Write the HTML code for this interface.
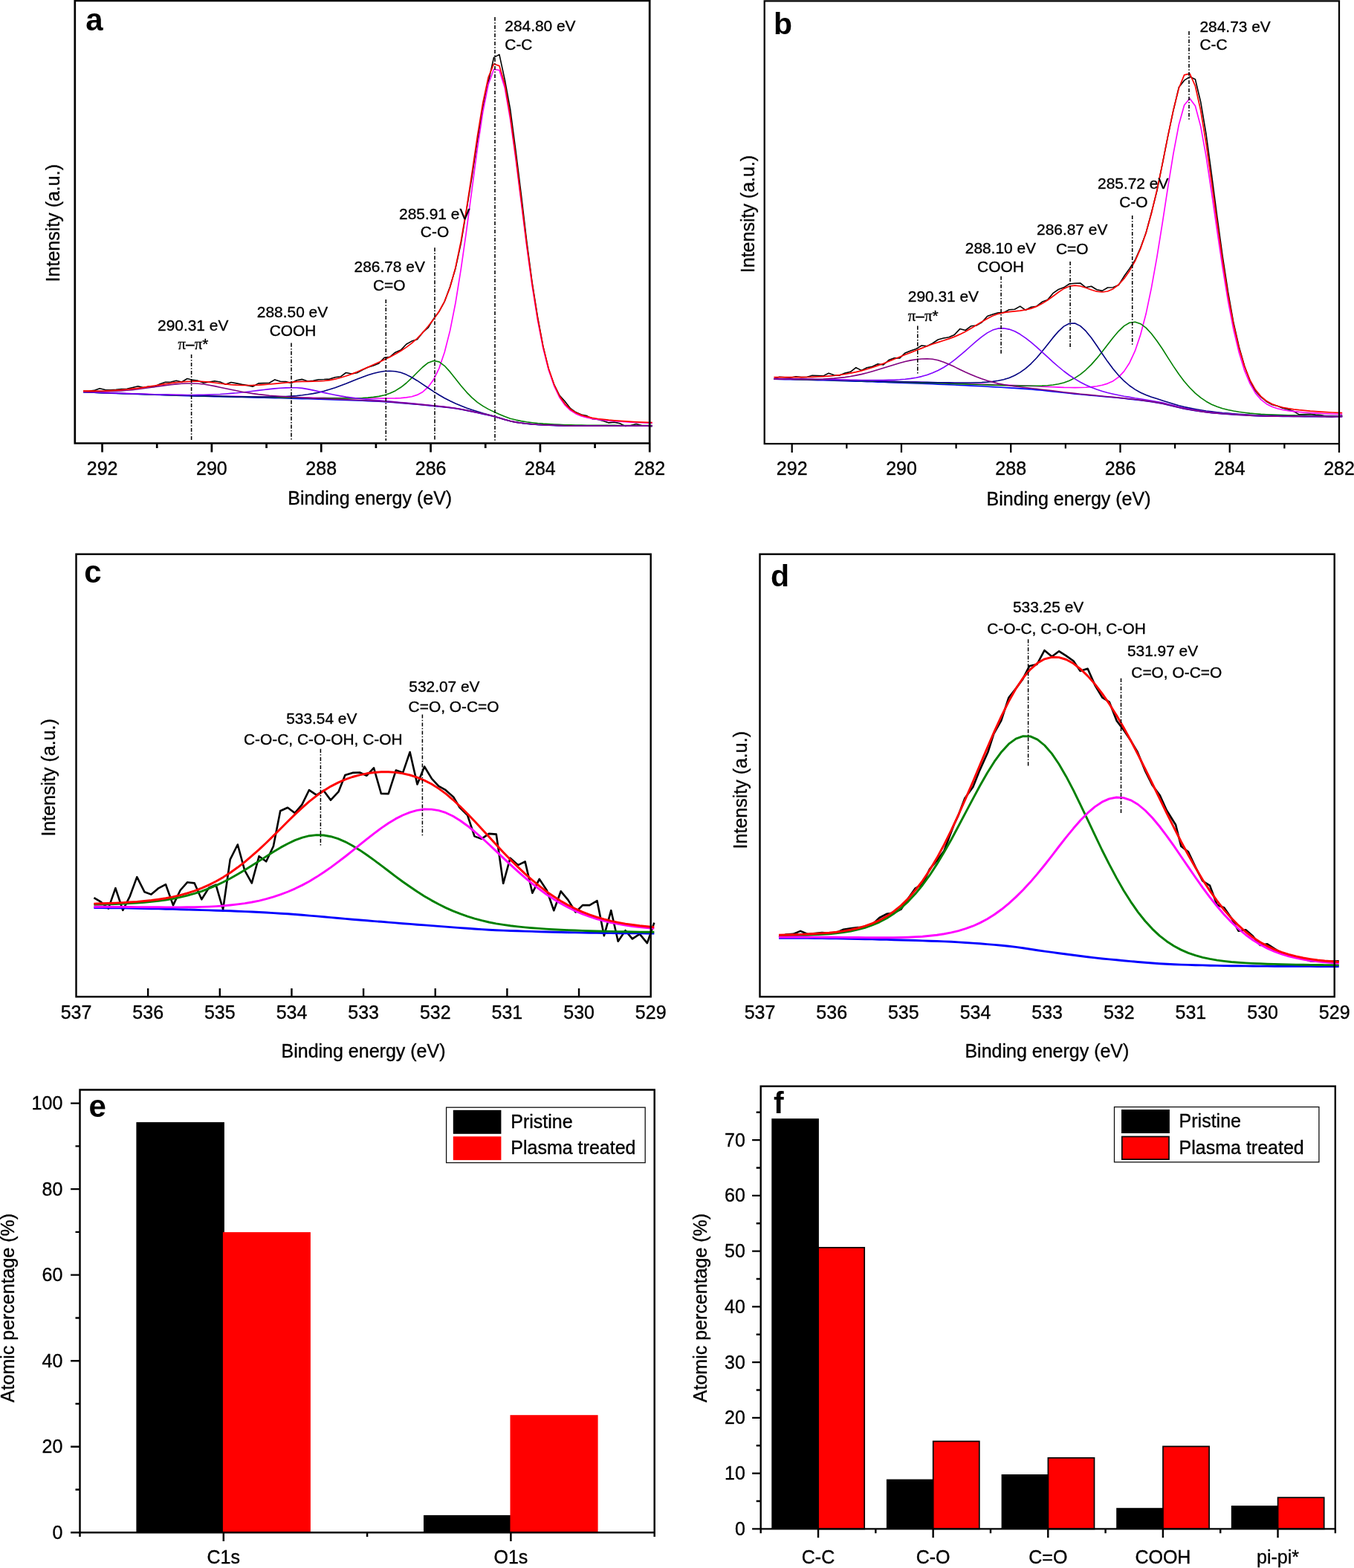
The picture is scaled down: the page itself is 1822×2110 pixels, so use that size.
<!DOCTYPE html>
<html lang="en">
<head>
<meta charset="utf-8">
<title>XPS spectra</title>
<style>
html,body{margin:0;padding:0;background:#fff;}
body{width:1822px;height:2110px;overflow:hidden;}
svg{display:block;}
svg text{font-family:"Liberation Sans",Arial,Helvetica,sans-serif;fill:#000;stroke:#000;stroke-width:0.35px;stroke-linejoin:round;}
svg text.b{stroke-width:0;}
</style>
</head>
<body>
<svg xmlns="http://www.w3.org/2000/svg" width="1822" height="2110" viewBox="0 0 1822 2110">
<rect x="0" y="0" width="1822" height="2110" fill="#fff"/>
<path d="M112 526.3 L119.4 526.4 L126.7 525.4 L134.1 522.7 L141.5 524.6 L148.8 524.7 L156.2 524.3 L163.6 523.6 L170.9 523.3 L178.3 521.6 L185.7 519.7 L193 521.6 L200.4 520 L207.8 520.4 L215.1 516.7 L222.5 514.2 L229.9 514 L237.2 512.2 L244.6 514 L252 509.5 L259.3 511.4 L266.7 512.4 L274.1 515.2 L281.4 514 L288.8 512.8 L296.2 514 L303.5 517.3 L310.9 514.5 L318.3 515.9 L325.6 517.4 L333 518.6 L340.4 520.1 L347.7 515.9 L355.1 515.6 L362.5 515.3 L369.8 510.9 L377.2 513.2 L384.6 513.6 L391.9 515.5 L399.3 511.7 L406.7 510.4 L414 513 L421.4 512.2 L428.8 510.7 L436.1 510.5 L443.5 510.1 L450.9 507.8 L458.2 506.8 L465.6 501.5 L473 503 L480.4 501.7 L487.7 497.7 L495.1 494.3 L502.5 492.1 L509.8 489 L517.2 481.2 L524.6 480.3 L531.9 474.2 L539.3 471.1 L546.7 463.2 L554 459.1 L561.4 456.8 L568.8 447.4 L576.1 441 L583.5 428.9 L590.9 419.2 L598.2 405.8 L605.6 385.8 L613 360.9 L620.3 327.4 L627.7 283.1 L635.1 237.5 L642.4 189.1 L649.8 145.7 L657.2 110.3 L664.5 77.4 L671.9 73.4 L679.3 107.4 L686.6 146.9 L694 202.6 L701.4 262.2 L708.7 324.2 L716.1 380.2 L723.5 426.6 L730.8 466 L738.2 496.8 L745.6 517.4 L752.9 532 L760.3 540.3 L767.7 549.7 L775 554.8 L782.4 558 L789.8 559.6 L797.1 563.7 L804.5 564.5 L811.9 566.6 L819.2 568.9 L826.6 568.1 L834 569.7 L841.3 573.4 L848.7 572.6 L856.1 570.6 L863.4 572.6 L877.7 573.8" fill="none" stroke="#000" stroke-width="1.6" stroke-linejoin="round" />
<path d="M112 527.7 L119.4 528 L126.7 528.3 L134.1 528.6 L141.5 528.9 L148.8 529.1 L156.2 529.4 L163.6 529.7 L170.9 530 L178.3 530.2 L185.7 530.5 L193 530.7 L200.4 531 L207.8 531.2 L215.1 531.5 L222.5 531.7 L229.9 532 L237.2 532.2 L244.6 532.4 L252 532.6 L259.3 532.9 L266.7 533.1 L274.1 533.3 L281.4 533.5 L288.8 533.6 L296.2 533.8 L303.5 534 L310.9 534.2 L318.3 534.4 L325.6 534.5 L333 534.7 L340.4 534.9 L347.7 535.1 L355.1 535.2 L362.5 535.4 L369.8 535.6 L377.2 535.8 L384.6 536 L391.9 536.2 L399.3 536.4 L406.7 536.6 L414 536.8 L421.4 537 L428.8 537.2 L436.1 537.5 L443.5 537.7 L450.9 537.9 L458.2 538.1 L465.6 538.4 L473 538.7 L480.4 538.9 L487.7 539.2 L495.1 539.6 L502.5 539.9 L509.8 540.3 L517.2 540.8 L524.6 541.3 L531.9 541.8 L539.3 542.4 L546.7 543 L554 543.6 L561.4 544.3 L568.8 544.9 L576.1 545.6 L583.5 546.4 L590.9 547.1 L598.2 547.9 L605.6 548.7 L613 549.7 L620.3 550.9 L627.7 552.4 L635.1 553.9 L642.4 555.5 L649.8 557.1 L657.2 558.7 L664.5 560.5 L671.9 562.5 L679.3 564.8 L686.6 566.8 L694 568.2 L701.4 569.3 L708.7 570.2 L716.1 570.9 L723.5 571.5 L730.8 571.8 L738.2 572.2 L745.6 572.5 L752.9 572.7 L760.3 572.9 L767.7 573 L775 573.1 L782.4 573.1 L789.8 573.1 L797.1 573.1 L804.5 573.1 L811.9 573.1 L819.2 573.1 L826.6 573.1 L834 573.1 L841.3 573.1 L848.7 573.1 L856.1 573.1 L863.4 573.1 L877.7 573.1" fill="none" stroke="#0000ff" stroke-width="1.6" stroke-linejoin="round" />
<path d="M112 527.3 L119.4 527.6 L126.7 527.9 L134.1 528.2 L141.5 528.4 L148.8 528.7 L156.2 529 L163.6 529.2 L170.9 529.5 L178.3 529.7 L185.7 530 L193 530.2 L200.4 530.5 L207.8 530.7 L215.1 530.9 L222.5 531.2 L229.9 531.4 L237.2 531.6 L244.6 531.8 L252 532 L259.3 532.2 L266.7 532.4 L274.1 532.5 L281.4 532.7 L288.8 532.9 L296.2 533 L303.5 533.2 L310.9 533.3 L318.3 533.4 L325.6 533.6 L333 533.7 L340.4 533.8 L347.7 534 L355.1 534.1 L362.5 534.2 L369.8 534.3 L377.2 534.5 L384.6 534.6 L391.9 534.7 L399.3 534.9 L406.7 535 L414 535.1 L421.4 535.2 L428.8 535.3 L436.1 535.4 L443.5 535.5 L450.9 535.6 L458.2 535.6 L465.6 535.7 L473 535.8 L480.4 535.9 L487.7 535.9 L495.1 536 L502.5 536 L509.8 536 L517.2 536.1 L524.6 536 L531.9 535.9 L539.3 535.6 L546.7 534.9 L554 533.7 L561.4 531.4 L568.8 527.4 L576.1 520.9 L583.5 510.8 L590.9 495.6 L598.2 474 L605.6 444.9 L613 407.5 L620.3 362.2 L627.7 310.3 L635.1 254.8 L642.4 199.7 L649.8 150.5 L657.2 113.2 L664.5 93.3 L671.9 94.5 L679.3 118.3 L686.6 160.3 L694 213.9 L701.4 272.7 L708.7 331 L716.1 384.6 L723.5 430.9 L730.8 468.6 L738.2 497.7 L745.6 519.3 L752.9 534.7 L760.3 545.2 L767.7 552.3 L775 556.9 L782.4 559.9 L789.8 562 L797.1 563.4 L804.5 564.5 L811.9 565.4 L819.2 566.1 L826.6 566.7 L834 567.3 L841.3 567.7 L848.7 568.1 L856.1 568.5 L863.4 568.8 L877.7 569.4" fill="none" stroke="#ff00ff" stroke-width="1.65" stroke-linejoin="round" />
<path d="M112 527.5 L119.4 527.8 L126.7 528.1 L134.1 528.4 L141.5 528.7 L148.8 528.9 L156.2 529.2 L163.6 529.5 L170.9 529.7 L178.3 530 L185.7 530.2 L193 530.5 L200.4 530.7 L207.8 531 L215.1 531.2 L222.5 531.4 L229.9 531.7 L237.2 531.9 L244.6 532.1 L252 532.3 L259.3 532.5 L266.7 532.7 L274.1 532.9 L281.4 533 L288.8 533.2 L296.2 533.4 L303.5 533.5 L310.9 533.7 L318.3 533.8 L325.6 534 L333 534.1 L340.4 534.2 L347.7 534.4 L355.1 534.5 L362.5 534.7 L369.8 534.8 L377.2 534.9 L384.6 535.1 L391.9 535.2 L399.3 535.3 L406.7 535.5 L414 535.6 L421.4 535.7 L428.8 535.7 L436.1 535.8 L443.5 535.9 L450.9 535.9 L458.2 535.9 L465.6 535.9 L473 535.9 L480.4 535.7 L487.7 535.5 L495.1 535.1 L502.5 534.4 L509.8 533.4 L517.2 531.7 L524.6 529.3 L531.9 525.9 L539.3 521.3 L546.7 515.5 L554 508.7 L561.4 501.2 L568.8 494 L576.1 488.2 L583.5 485.5 L590.9 486.9 L598.2 492.3 L605.6 500.4 L613 509.7 L620.3 519 L627.7 527.6 L635.1 535.1 L642.4 541.3 L649.8 546.4 L657.2 550.6 L664.5 554.1 L671.9 557.4 L679.3 560.6 L686.6 563.2 L694 565.1 L701.4 566.6 L708.7 567.8 L716.1 568.7 L723.5 569.5 L730.8 570.1 L738.2 570.5 L745.6 571 L752.9 571.4 L760.3 571.7 L767.7 571.9 L775 572 L782.4 572.1 L789.8 572.2 L797.1 572.2 L804.5 572.3 L811.9 572.3 L819.2 572.4 L826.6 572.4 L834 572.5 L841.3 572.5 L848.7 572.5 L856.1 572.6 L863.4 572.6 L877.7 572.6" fill="none" stroke="#008000" stroke-width="1.6" stroke-linejoin="round" />
<path d="M112 527.5 L119.4 527.8 L126.7 528.1 L134.1 528.4 L141.5 528.7 L148.8 528.9 L156.2 529.2 L163.6 529.5 L170.9 529.7 L178.3 530 L185.7 530.2 L193 530.5 L200.4 530.7 L207.8 530.9 L215.1 531.2 L222.5 531.4 L229.9 531.6 L237.2 531.8 L244.6 532 L252 532.2 L259.3 532.4 L266.7 532.6 L274.1 532.8 L281.4 533 L288.8 533.1 L296.2 533.3 L303.5 533.4 L310.9 533.6 L318.3 533.7 L325.6 533.8 L333 533.9 L340.4 534 L347.7 534 L355.1 534 L362.5 534 L369.8 533.9 L377.2 533.8 L384.6 533.5 L391.9 533.1 L399.3 532.6 L406.7 531.8 L414 530.8 L421.4 529.6 L428.8 528.1 L436.1 526.3 L443.5 524.1 L450.9 521.7 L458.2 519.1 L465.6 516.3 L473 513.3 L480.4 510.3 L487.7 507.4 L495.1 504.8 L502.5 502.5 L509.8 500.7 L517.2 499.5 L524.6 499.2 L531.9 499.7 L539.3 501.3 L546.7 504.1 L554 507.8 L561.4 512.2 L568.8 517.1 L576.1 522 L583.5 526.9 L590.9 531.5 L598.2 535.7 L605.6 539.5 L613 542.9 L620.3 546 L627.7 548.9 L635.1 551.5 L642.4 553.8 L649.8 556 L657.2 558 L664.5 560 L671.9 562.2 L679.3 564.6 L686.6 566.6 L694 568.1 L701.4 569.2 L708.7 570.1 L716.1 570.8 L723.5 571.4 L730.8 571.8 L738.2 572.1 L745.6 572.4 L752.9 572.6 L760.3 572.9 L767.7 573 L775 573 L782.4 573.1 L789.8 573.1 L797.1 573.1 L804.5 573.1 L811.9 573.1 L819.2 573.1 L826.6 573.1 L834 573.1 L841.3 573.1 L848.7 573.1 L856.1 573.1 L863.4 573.1 L877.7 573.1" fill="none" stroke="#000080" stroke-width="1.6" stroke-linejoin="round" />
<path d="M112 527.5 L119.4 527.7 L126.7 528 L134.1 528.3 L141.5 528.6 L148.8 528.8 L156.2 529.1 L163.6 529.3 L170.9 529.6 L178.3 529.8 L185.7 530 L193 530.3 L200.4 530.5 L207.8 530.7 L215.1 530.9 L222.5 531 L229.9 531.2 L237.2 531.3 L244.6 531.4 L252 531.5 L259.3 531.5 L266.7 531.4 L274.1 531.3 L281.4 531.1 L288.8 530.8 L296.2 530.5 L303.5 530 L310.9 529.4 L318.3 528.8 L325.6 528 L333 527.2 L340.4 526.3 L347.7 525.4 L355.1 524.5 L362.5 523.6 L369.8 522.9 L377.2 522.3 L384.6 521.9 L391.9 521.7 L399.3 521.8 L406.7 522.4 L414 523.6 L421.4 525.1 L428.8 526.7 L436.1 528.4 L443.5 530 L450.9 531.5 L458.2 532.9 L465.6 534.1 L473 535.1 L480.4 536 L487.7 536.8 L495.1 537.5 L502.5 538.2 L509.8 538.8 L517.2 539.5 L524.6 540.1 L531.9 540.8 L539.3 541.5 L546.7 542.1 L554 542.9 L561.4 543.6 L568.8 544.3 L576.1 545.1 L583.5 545.8 L590.9 546.6 L598.2 547.4 L605.6 548.3 L613 549.3 L620.3 550.5 L627.7 552 L635.1 553.6 L642.4 555.2 L649.8 556.8 L657.2 558.4 L664.5 560.2 L671.9 562.3 L679.3 564.6 L686.6 566.6 L694 568 L701.4 569.1 L708.7 570 L716.1 570.7 L723.5 571.3 L730.8 571.7 L738.2 572 L745.6 572.3 L752.9 572.6 L760.3 572.8 L767.7 572.9 L775 573 L782.4 573 L789.8 573 L797.1 573 L804.5 573 L811.9 573 L819.2 573 L826.6 573 L834 573 L841.3 573 L848.7 573 L856.1 573 L863.4 573 L877.7 573" fill="none" stroke="#8000ff" stroke-width="1.6" stroke-linejoin="round" />
<path d="M112 527 L119.4 527.1 L126.7 527.1 L134.1 527.1 L141.5 527 L148.8 526.7 L156.2 526.4 L163.6 525.9 L170.9 525.3 L178.3 524.6 L185.7 523.7 L193 522.8 L200.4 521.8 L207.8 520.7 L215.1 519.6 L222.5 518.6 L229.9 517.7 L237.2 516.9 L244.6 516.3 L252 516 L259.3 516 L266.7 516.3 L274.1 517 L281.4 518.2 L288.8 519.6 L296.2 521.2 L303.5 522.8 L310.9 524.3 L318.3 525.8 L325.6 527.2 L333 528.5 L340.4 529.6 L347.7 530.6 L355.1 531.4 L362.5 532.2 L369.8 532.8 L377.2 533.4 L384.6 533.9 L391.9 534.4 L399.3 534.8 L406.7 535.2 L414 535.5 L421.4 535.9 L428.8 536.2 L436.1 536.5 L443.5 536.8 L450.9 537.1 L458.2 537.4 L465.6 537.7 L473 538 L480.4 538.3 L487.7 538.6 L495.1 539 L502.5 539.4 L509.8 539.8 L517.2 540.3 L524.6 540.8 L531.9 541.4 L539.3 542 L546.7 542.6 L554 543.2 L561.4 543.9 L568.8 544.6 L576.1 545.3 L583.5 546 L590.9 546.8 L598.2 547.6 L605.6 548.5 L613 549.5 L620.3 550.7 L627.7 552.1 L635.1 553.7 L642.4 555.2 L649.8 556.8 L657.2 558.5 L664.5 560.3 L671.9 562.4 L679.3 564.7 L686.6 566.6 L694 568.1 L701.4 569.2 L708.7 570 L716.1 570.7 L723.5 571.3 L730.8 571.7 L738.2 572 L745.6 572.3 L752.9 572.6 L760.3 572.8 L767.7 572.9 L775 573 L782.4 573 L789.8 573 L797.1 573 L804.5 573 L811.9 573 L819.2 573 L826.6 573 L834 573 L841.3 573 L848.7 573 L856.1 573 L863.4 573 L877.7 573" fill="none" stroke="#800080" stroke-width="1.6" stroke-linejoin="round" />
<path d="M112 526.1 L119.4 526.1 L126.7 526.1 L134.1 526 L141.5 525.9 L148.8 525.6 L156.2 525.2 L163.6 524.7 L170.9 524 L178.3 523.2 L185.7 522.3 L193 521.3 L200.4 520.2 L207.8 519 L215.1 517.9 L222.5 516.7 L229.9 515.7 L237.2 514.7 L244.6 514 L252 513.4 L259.3 513.1 L266.7 513.1 L274.1 513.5 L281.4 514.2 L288.8 515 L296.2 516 L303.5 516.8 L310.9 517.6 L318.3 518.1 L325.6 518.4 L333 518.5 L340.4 518.4 L347.7 518.1 L355.1 517.6 L362.5 517 L369.8 516.4 L377.2 515.7 L384.6 515 L391.9 514.3 L399.3 513.7 L406.7 513.4 L414 513.3 L421.4 513.2 L428.8 513 L436.1 512.5 L443.5 511.6 L450.9 510.2 L458.2 508.3 L465.6 506 L473 503.4 L480.4 500.5 L487.7 497.3 L495.1 494.1 L502.5 490.8 L509.8 487.5 L517.2 484.1 L524.6 480.5 L531.9 476.5 L539.3 472.2 L546.7 467.4 L554 461.8 L561.4 455.3 L568.8 447.6 L576.1 439 L583.5 429.6 L590.9 419 L598.2 405.6 L605.6 386.7 L613 360 L620.3 324.7 L627.7 281.5 L635.1 233 L642.4 183.4 L649.8 138.2 L657.2 103.8 L664.5 86 L671.9 88.6 L679.3 113.4 L686.6 156.1 L694 210.2 L701.4 269.5 L708.7 328.1 L716.1 382 L723.5 428.5 L730.8 466.4 L738.2 495.7 L745.6 517.5 L752.9 533 L760.3 543.6 L767.7 550.8 L775 555.5 L782.4 558.6 L789.8 560.7 L797.1 562.3 L804.5 563.5 L811.9 564.4 L819.2 565.2 L826.6 565.8 L834 566.4 L841.3 566.9 L848.7 567.4 L856.1 567.8 L863.4 568.1 L877.7 568.7" fill="none" stroke="#ff0000" stroke-width="1.7" stroke-linejoin="round" />
<line x1="666" y1="23" x2="666" y2="593" stroke="#000" stroke-width="1.55" stroke-dasharray="5.1 2.2 1.5 2.2"/>
<line x1="585" y1="333.3" x2="585" y2="593" stroke="#000" stroke-width="1.55" stroke-dasharray="5.1 2.2 1.5 2.2"/>
<line x1="519.3" y1="402.9" x2="519.3" y2="593" stroke="#000" stroke-width="1.55" stroke-dasharray="5.1 2.2 1.5 2.2"/>
<line x1="392" y1="461.6" x2="392" y2="593" stroke="#000" stroke-width="1.55" stroke-dasharray="5.1 2.2 1.5 2.2"/>
<line x1="257.6" y1="477" x2="257.6" y2="593" stroke="#000" stroke-width="1.55" stroke-dasharray="5.1 2.2 1.5 2.2"/>
<text x="679.3" y="41.8" font-size="20.9" >284.80 eV</text>
<text x="679.3" y="66.6" font-size="20.9" >C-C</text>
<text x="584.7" y="294.5" font-size="20.9" text-anchor="middle" >285.91 eV</text>
<text x="585" y="319" font-size="20.9" text-anchor="middle" >C-O</text>
<text x="524.2" y="366.2" font-size="20.9" text-anchor="middle" >286.78 eV</text>
<text x="523.8" y="391.4" font-size="20.9" text-anchor="middle" >C=O</text>
<text x="393.5" y="427.1" font-size="20.9" text-anchor="middle" >288.50 eV</text>
<text x="394" y="452.4" font-size="20.9" text-anchor="middle" >COOH</text>
<text x="259.7" y="444.8" font-size="20.9" text-anchor="middle" >290.31 eV</text>
<text x="260" y="469.6" font-size="20.9" text-anchor="middle" ><tspan font-family="Liberation Serif, serif">π</tspan>–<tspan font-family="Liberation Serif, serif">π</tspan>*</text>
<text x="115.2" y="41" font-size="42" font-weight="bold" class="b" >a</text>
<text x="497.7" y="679.2" font-size="25.0" text-anchor="middle" >Binding energy (eV)</text>
<text x="79.9" y="300.2" font-size="25.0" text-anchor="middle" transform="rotate(-90 79.9 300.2)" >Intensity (a.u.)</text>
<text x="137.6" y="639.3" font-size="25.0" text-anchor="middle" >292</text>
<text x="284.9" y="639.3" font-size="25.0" text-anchor="middle" >290</text>
<text x="432.2" y="639.3" font-size="25.0" text-anchor="middle" >288</text>
<text x="579.6" y="639.3" font-size="25.0" text-anchor="middle" >286</text>
<text x="726.9" y="639.3" font-size="25.0" text-anchor="middle" >284</text>
<text x="874.2" y="639.3" font-size="25.0" text-anchor="middle" >282</text>
<path d="M100.8 0.9H874.2V596.5H100.8ZM137.55 596.55L137.55 608.55M211.22 596.55L211.22 602.95M284.89 596.55L284.89 608.55M358.56 596.55L358.56 602.95M432.23 596.55L432.23 608.55M505.9 596.55L505.9 602.95M579.57 596.55L579.57 608.55M653.24 596.55L653.24 602.95M726.91 596.55L726.91 608.55M800.58 596.55L800.58 602.95M874.25 596.55L874.25 608.55" fill="none" stroke="#000" stroke-width="2.7" stroke-linejoin="miter"/>
<path d="M1041.4 509.7 L1048.8 507.2 L1056.1 507.8 L1063.5 508.2 L1070.9 506.7 L1078.2 507.6 L1085.6 507.5 L1092.9 505.2 L1100.3 505.6 L1107.7 505.9 L1115 502.3 L1122.4 504.8 L1129.8 505.1 L1137.1 502.1 L1144.5 500.3 L1151.8 494.6 L1159.2 498.5 L1166.6 494.8 L1173.9 493.2 L1181.3 489.8 L1188.7 491 L1196 484.5 L1203.4 481.7 L1210.7 481.9 L1218.1 474.9 L1225.5 471.9 L1232.8 469.4 L1240.2 465 L1247.6 465.7 L1254.9 462 L1262.3 457 L1269.7 455 L1277 453.7 L1284.4 450.4 L1291.7 442.6 L1299.1 444.5 L1306.5 438.8 L1313.8 438 L1321.2 433.7 L1328.6 425.5 L1335.9 422.9 L1343.3 420.8 L1350.6 420.6 L1358 416.7 L1365.4 416.2 L1372.7 412.1 L1380.1 417.3 L1387.5 413.3 L1394.8 412.2 L1402.2 406.3 L1409.6 403.5 L1416.9 394.7 L1424.3 389.5 L1431.6 386.8 L1439 382 L1446.4 381.3 L1453.7 381 L1461.1 386.8 L1468.5 385.2 L1475.8 389.8 L1483.2 391.4 L1490.5 387 L1497.9 386.8 L1505.3 383.5 L1512.6 371.8 L1520 361.4 L1527.4 350 L1534.7 333.6 L1542.1 313.2 L1549.4 286.3 L1556.8 257.1 L1564.2 220.4 L1571.5 183.6 L1578.9 148.7 L1586.3 117.6 L1593.6 108.2 L1601 103.3 L1608.4 106.8 L1615.7 137.2 L1623.1 181 L1630.4 234.9 L1637.8 291.3 L1645.2 345.2 L1652.5 392.7 L1659.9 434.3 L1667.3 466.8 L1674.6 492.2 L1682 512.5 L1689.3 526 L1696.7 534.2 L1704.1 540.2 L1711.4 544.4 L1718.8 546.3 L1726.2 549.3 L1733.5 551 L1740.9 553.6 L1748.2 557.9 L1755.6 557.6 L1763 557.3 L1770.3 558.1 L1777.7 558.5 L1785.1 560.7 L1792.4 561.2 L1806.2 559" fill="none" stroke="#000" stroke-width="1.6" stroke-linejoin="round" />
<path d="M1041.4 510.3 L1048.8 510.4 L1056.1 510.6 L1063.5 510.7 L1070.9 510.9 L1078.2 511 L1085.6 511.2 L1092.9 511.4 L1100.3 511.6 L1107.7 511.8 L1115 512 L1122.4 512.2 L1129.8 512.4 L1137.1 512.6 L1144.5 512.9 L1151.8 513.1 L1159.2 513.3 L1166.6 513.6 L1173.9 513.8 L1181.3 514.1 L1188.7 514.3 L1196 514.6 L1203.4 514.9 L1210.7 515.1 L1218.1 515.4 L1225.5 515.7 L1232.8 515.9 L1240.2 516.2 L1247.6 516.5 L1254.9 516.8 L1262.3 517.1 L1269.7 517.4 L1277 517.7 L1284.4 518 L1291.7 518.4 L1299.1 518.7 L1306.5 519.1 L1313.8 519.4 L1321.2 519.8 L1328.6 520.2 L1335.9 520.6 L1343.3 521 L1350.6 521.5 L1358 521.9 L1365.4 522.4 L1372.7 522.9 L1380.1 523.4 L1387.5 524 L1394.8 524.6 L1402.2 525.3 L1409.6 526.1 L1416.9 526.9 L1424.3 527.7 L1431.6 528.5 L1439 529.3 L1446.4 530.1 L1453.7 530.8 L1461.1 531.5 L1468.5 532.2 L1475.8 532.8 L1483.2 533.5 L1490.5 534.2 L1497.9 534.8 L1505.3 535.5 L1512.6 536.3 L1520 537.1 L1527.4 537.9 L1534.7 538.8 L1542.1 539.7 L1549.4 540.7 L1556.8 541.9 L1564.2 543.2 L1571.5 544.9 L1578.9 546.7 L1586.3 548.5 L1593.6 550.1 L1601 551.4 L1608.4 552.6 L1615.7 553.8 L1623.1 554.8 L1630.4 555.6 L1637.8 556.3 L1645.2 556.9 L1652.5 557.4 L1659.9 557.9 L1667.3 558.4 L1674.6 558.8 L1682 559.2 L1689.3 559.6 L1696.7 560 L1704.1 560.2 L1711.4 560.2 L1718.8 560.3 L1726.2 560.4 L1733.5 560.4 L1740.9 560.5 L1748.2 560.5 L1755.6 560.6 L1763 560.6 L1770.3 560.6 L1777.7 560.7 L1785.1 560.7 L1792.4 560.7 L1806.2 560.7" fill="none" stroke="#0000ff" stroke-width="1.6" stroke-linejoin="round" />
<path d="M1041.4 509.6 L1048.8 509.7 L1056.1 509.8 L1063.5 510 L1070.9 510.1 L1078.2 510.3 L1085.6 510.4 L1092.9 510.6 L1100.3 510.7 L1107.7 510.9 L1115 511.1 L1122.4 511.3 L1129.8 511.4 L1137.1 511.6 L1144.5 511.8 L1151.8 512 L1159.2 512.2 L1166.6 512.4 L1173.9 512.6 L1181.3 512.9 L1188.7 513.1 L1196 513.3 L1203.4 513.5 L1210.7 513.7 L1218.1 513.9 L1225.5 514.1 L1232.8 514.4 L1240.2 514.6 L1247.6 514.8 L1254.9 515 L1262.3 515.2 L1269.7 515.5 L1277 515.7 L1284.4 515.9 L1291.7 516.1 L1299.1 516.4 L1306.5 516.6 L1313.8 516.9 L1321.2 517.1 L1328.6 517.4 L1335.9 517.6 L1343.3 517.9 L1350.6 518.1 L1358 518.4 L1365.4 518.6 L1372.7 518.9 L1380.1 519.1 L1387.5 519.4 L1394.8 519.7 L1402.2 520.1 L1409.6 520.4 L1416.9 520.8 L1424.3 521.1 L1431.6 521.4 L1439 521.5 L1446.4 521.6 L1453.7 521.5 L1461.1 521.2 L1468.5 520.6 L1475.8 519.7 L1483.2 518.3 L1490.5 516.1 L1497.9 512.7 L1505.3 507.4 L1512.6 499.6 L1520 488.2 L1527.4 472.2 L1534.7 450.5 L1542.1 422.3 L1549.4 387.3 L1556.8 346.1 L1564.2 300.2 L1571.5 252.5 L1578.9 206.8 L1586.3 167.9 L1593.6 141.5 L1601 132.4 L1608.4 142.5 L1615.7 170.1 L1623.1 210.9 L1630.4 259.5 L1637.8 310.7 L1645.2 360.3 L1652.5 405.2 L1659.9 443.5 L1667.3 474.5 L1674.6 498.4 L1682 516.2 L1689.3 528.9 L1696.7 537.6 L1704.1 543.4 L1711.4 547.2 L1718.8 549.7 L1726.2 551.5 L1733.5 552.7 L1740.9 553.6 L1748.2 554.4 L1755.6 555 L1763 555.5 L1770.3 555.9 L1777.7 556.3 L1785.1 556.7 L1792.4 557 L1806.2 557.5" fill="none" stroke="#ff00ff" stroke-width="1.65" stroke-linejoin="round" />
<path d="M1041.4 509.9 L1048.8 510 L1056.1 510.1 L1063.5 510.3 L1070.9 510.4 L1078.2 510.6 L1085.6 510.7 L1092.9 510.9 L1100.3 511.1 L1107.7 511.2 L1115 511.4 L1122.4 511.6 L1129.8 511.8 L1137.1 512 L1144.5 512.2 L1151.8 512.4 L1159.2 512.6 L1166.6 512.8 L1173.9 513.1 L1181.3 513.3 L1188.7 513.5 L1196 513.7 L1203.4 513.9 L1210.7 514.2 L1218.1 514.4 L1225.5 514.6 L1232.8 514.9 L1240.2 515.1 L1247.6 515.3 L1254.9 515.5 L1262.3 515.8 L1269.7 516 L1277 516.2 L1284.4 516.5 L1291.7 516.7 L1299.1 516.9 L1306.5 517.2 L1313.8 517.4 L1321.2 517.7 L1328.6 517.9 L1335.9 518.1 L1343.3 518.4 L1350.6 518.6 L1358 518.8 L1365.4 519 L1372.7 519.1 L1380.1 519.2 L1387.5 519.3 L1394.8 519.2 L1402.2 519.1 L1409.6 518.7 L1416.9 518 L1424.3 516.8 L1431.6 514.9 L1439 512.2 L1446.4 508.6 L1453.7 503.8 L1461.1 497.8 L1468.5 490.6 L1475.8 482.4 L1483.2 473.3 L1490.5 463.7 L1497.9 454.3 L1505.3 445.6 L1512.6 438.6 L1520 434.3 L1527.4 433.3 L1534.7 435.7 L1542.1 441.1 L1549.4 449 L1556.8 458.7 L1564.2 469.5 L1571.5 481.1 L1578.9 492.6 L1586.3 503.5 L1593.6 513.3 L1601 521.8 L1608.4 529.1 L1615.7 535.2 L1623.1 540.2 L1630.4 544.2 L1637.8 547.2 L1645.2 549.7 L1652.5 551.5 L1659.9 553 L1667.3 554.2 L1674.6 555.2 L1682 556.1 L1689.3 556.8 L1696.7 557.4 L1704.1 557.8 L1711.4 558.1 L1718.8 558.3 L1726.2 558.5 L1733.5 558.7 L1740.9 558.8 L1748.2 559 L1755.6 559.1 L1763 559.2 L1770.3 559.3 L1777.7 559.4 L1785.1 559.5 L1792.4 559.6 L1806.2 559.7" fill="none" stroke="#008000" stroke-width="1.6" stroke-linejoin="round" />
<path d="M1041.4 509.8 L1048.8 509.9 L1056.1 510 L1063.5 510.1 L1070.9 510.3 L1078.2 510.4 L1085.6 510.6 L1092.9 510.7 L1100.3 510.9 L1107.7 511.1 L1115 511.2 L1122.4 511.4 L1129.8 511.6 L1137.1 511.8 L1144.5 511.9 L1151.8 512.1 L1159.2 512.3 L1166.6 512.5 L1173.9 512.7 L1181.3 512.9 L1188.7 513.1 L1196 513.3 L1203.4 513.4 L1210.7 513.6 L1218.1 513.8 L1225.5 514 L1232.8 514.1 L1240.2 514.3 L1247.6 514.4 L1254.9 514.6 L1262.3 514.7 L1269.7 514.8 L1277 514.9 L1284.4 515 L1291.7 515 L1299.1 515 L1306.5 515 L1313.8 514.8 L1321.2 514.6 L1328.6 514.1 L1335.9 513.4 L1343.3 512.3 L1350.6 510.7 L1358 508.4 L1365.4 505.3 L1372.7 501.1 L1380.1 495.8 L1387.5 489.3 L1394.8 481.7 L1402.2 473 L1409.6 463.8 L1416.9 454.4 L1424.3 445.9 L1431.6 439.1 L1439 435.2 L1446.4 435 L1453.7 438.6 L1461.1 445.4 L1468.5 454.5 L1475.8 465 L1483.2 476 L1490.5 486.6 L1497.9 496.5 L1505.3 505.2 L1512.6 512.7 L1520 519 L1527.4 524.1 L1534.7 528.2 L1542.1 531.5 L1549.4 534.3 L1556.8 536.6 L1564.2 538.9 L1571.5 541.2 L1578.9 543.5 L1586.3 545.7 L1593.6 547.6 L1601 549.1 L1608.4 550.5 L1615.7 551.8 L1623.1 553 L1630.4 553.9 L1637.8 554.7 L1645.2 555.5 L1652.5 556.1 L1659.9 556.7 L1667.3 557.2 L1674.6 557.7 L1682 558.2 L1689.3 558.7 L1696.7 559 L1704.1 559.3 L1711.4 559.4 L1718.8 559.5 L1726.2 559.6 L1733.5 559.7 L1740.9 559.8 L1748.2 559.9 L1755.6 559.9 L1763 560 L1770.3 560.1 L1777.7 560.1 L1785.1 560.2 L1792.4 560.2 L1806.2 560.2" fill="none" stroke="#000080" stroke-width="1.6" stroke-linejoin="round" />
<path d="M1041.4 509.6 L1048.8 509.7 L1056.1 509.8 L1063.5 509.9 L1070.9 510 L1078.2 510.1 L1085.6 510.2 L1092.9 510.3 L1100.3 510.5 L1107.7 510.6 L1115 510.7 L1122.4 510.9 L1129.8 511 L1137.1 511.1 L1144.5 511.2 L1151.8 511.4 L1159.2 511.5 L1166.6 511.5 L1173.9 511.6 L1181.3 511.6 L1188.7 511.6 L1196 511.4 L1203.4 511.2 L1210.7 510.8 L1218.1 510.2 L1225.5 509.4 L1232.8 508.2 L1240.2 506.6 L1247.6 504.5 L1254.9 501.8 L1262.3 498.5 L1269.7 494.5 L1277 489.8 L1284.4 484.4 L1291.7 478.4 L1299.1 472.1 L1306.5 465.5 L1313.8 459.1 L1321.2 453.1 L1328.6 447.9 L1335.9 444.1 L1343.3 441.9 L1350.6 441.7 L1358 443.1 L1365.4 445.8 L1372.7 449.8 L1380.1 454.8 L1387.5 460.6 L1394.8 466.9 L1402.2 473.6 L1409.6 480.4 L1416.9 487.1 L1424.3 493.5 L1431.6 499.5 L1439 505 L1446.4 509.9 L1453.7 514.2 L1461.1 518 L1468.5 521.3 L1475.8 524.1 L1483.2 526.4 L1490.5 528.5 L1497.9 530.2 L1505.3 531.8 L1512.6 533.2 L1520 534.4 L1527.4 535.7 L1534.7 536.8 L1542.1 538 L1549.4 539.2 L1556.8 540.5 L1564.2 541.9 L1571.5 543.7 L1578.9 545.6 L1586.3 547.5 L1593.6 549.1 L1601 550.5 L1608.4 551.8 L1615.7 553 L1623.1 554 L1630.4 554.9 L1637.8 555.6 L1645.2 556.2 L1652.5 556.8 L1659.9 557.3 L1667.3 557.8 L1674.6 558.2 L1682 558.7 L1689.3 559.1 L1696.7 559.5 L1704.1 559.7 L1711.4 559.8 L1718.8 559.9 L1726.2 560 L1733.5 560 L1740.9 560.1 L1748.2 560.1 L1755.6 560.2 L1763 560.2 L1770.3 560.3 L1777.7 560.3 L1785.1 560.4 L1792.4 560.4 L1806.2 560.4" fill="none" stroke="#8000ff" stroke-width="1.6" stroke-linejoin="round" />
<path d="M1041.4 510.1 L1048.8 510.2 L1056.1 510.3 L1063.5 510.3 L1070.9 510.4 L1078.2 510.4 L1085.6 510.4 L1092.9 510.4 L1100.3 510.2 L1107.7 510 L1115 509.6 L1122.4 509.1 L1129.8 508.4 L1137.1 507.6 L1144.5 506.5 L1151.8 505.1 L1159.2 503.6 L1166.6 501.8 L1173.9 499.8 L1181.3 497.6 L1188.7 495.3 L1196 493 L1203.4 490.7 L1210.7 488.5 L1218.1 486.5 L1225.5 484.9 L1232.8 483.7 L1240.2 483 L1247.6 482.8 L1254.9 483.3 L1262.3 484.8 L1269.7 487.2 L1277 490.2 L1284.4 493.6 L1291.7 497.2 L1299.1 500.7 L1306.5 504 L1313.8 507.1 L1321.2 509.8 L1328.6 512.2 L1335.9 514.3 L1343.3 516.1 L1350.6 517.5 L1358 518.8 L1365.4 519.9 L1372.7 520.8 L1380.1 521.6 L1387.5 522.5 L1394.8 523.3 L1402.2 524.2 L1409.6 525 L1416.9 525.9 L1424.3 526.8 L1431.6 527.7 L1439 528.6 L1446.4 529.4 L1453.7 530.2 L1461.1 530.9 L1468.5 531.6 L1475.8 532.3 L1483.2 533 L1490.5 533.7 L1497.9 534.4 L1505.3 535.1 L1512.6 535.9 L1520 536.7 L1527.4 537.5 L1534.7 538.4 L1542.1 539.4 L1549.4 540.4 L1556.8 541.6 L1564.2 542.9 L1571.5 544.6 L1578.9 546.5 L1586.3 548.3 L1593.6 549.9 L1601 551.2 L1608.4 552.4 L1615.7 553.6 L1623.1 554.6 L1630.4 555.4 L1637.8 556.1 L1645.2 556.7 L1652.5 557.3 L1659.9 557.8 L1667.3 558.2 L1674.6 558.6 L1682 559.1 L1689.3 559.5 L1696.7 559.8 L1704.1 560 L1711.4 560.1 L1718.8 560.2 L1726.2 560.2 L1733.5 560.3 L1740.9 560.4 L1748.2 560.4 L1755.6 560.5 L1763 560.5 L1770.3 560.5 L1777.7 560.6 L1785.1 560.6 L1792.4 560.6 L1806.2 560.6" fill="none" stroke="#800080" stroke-width="1.6" stroke-linejoin="round" />
<path d="M1041.4 507.7 L1048.8 507.7 L1056.1 507.7 L1063.5 507.7 L1070.9 507.7 L1078.2 507.6 L1085.6 507.5 L1092.9 507.3 L1100.3 507 L1107.7 506.6 L1115 506.1 L1122.4 505.5 L1129.8 504.6 L1137.1 503.5 L1144.5 502.2 L1151.8 500.7 L1159.2 498.9 L1166.6 496.8 L1173.9 494.5 L1181.3 491.9 L1188.7 489.2 L1196 486.3 L1203.4 483.3 L1210.7 480.3 L1218.1 477.3 L1225.5 474.4 L1232.8 471.5 L1240.2 468.6 L1247.6 465.8 L1254.9 463 L1262.3 460.6 L1269.7 458.3 L1277 455.9 L1284.4 453.1 L1291.7 449.9 L1299.1 446.2 L1306.5 442 L1313.8 437.5 L1321.2 433 L1328.6 428.7 L1335.9 425 L1343.3 422.3 L1350.6 420.7 L1358 419.7 L1365.4 418.9 L1372.7 418.1 L1380.1 416.9 L1387.5 415.1 L1394.8 412.4 L1402.2 408.6 L1409.6 404 L1416.9 398.7 L1424.3 393.2 L1431.6 388.4 L1439 385.2 L1446.4 384.1 L1453.7 385 L1461.1 387.3 L1468.5 390 L1475.8 392.2 L1483.2 393 L1490.5 392 L1497.9 388.7 L1505.3 383 L1512.6 374.9 L1520 364.4 L1527.4 351.3 L1534.7 334.6 L1542.1 313.5 L1549.4 287.3 L1556.8 256 L1564.2 220.6 L1571.5 183.6 L1578.9 148.1 L1586.3 118.8 L1593.6 100.9 L1601 99.2 L1608.4 115.7 L1615.7 148.6 L1623.1 193.6 L1630.4 245.5 L1637.8 299.2 L1645.2 350.8 L1652.5 397.1 L1659.9 436.5 L1667.3 468.4 L1674.6 493 L1682 511.3 L1689.3 524.4 L1696.7 533.4 L1704.1 539.5 L1711.4 543.6 L1718.8 546.3 L1726.2 548.3 L1733.5 549.7 L1740.9 550.8 L1748.2 551.7 L1755.6 552.4 L1763 553.1 L1770.3 553.6 L1777.7 554.1 L1785.1 554.6 L1792.4 555 L1806.2 555.6" fill="none" stroke="#ff0000" stroke-width="1.7" stroke-linejoin="round" />
<line x1="1600" y1="42" x2="1600" y2="161.6" stroke="#000" stroke-width="1.55" stroke-dasharray="5.1 2.2 1.5 2.2"/>
<line x1="1523.7" y1="290" x2="1523.7" y2="465" stroke="#000" stroke-width="1.55" stroke-dasharray="5.1 2.2 1.5 2.2"/>
<line x1="1440.1" y1="352" x2="1440.1" y2="469.4" stroke="#000" stroke-width="1.55" stroke-dasharray="5.1 2.2 1.5 2.2"/>
<line x1="1347.1" y1="371.7" x2="1347.1" y2="476" stroke="#000" stroke-width="1.55" stroke-dasharray="5.1 2.2 1.5 2.2"/>
<line x1="1234.8" y1="438.6" x2="1234.8" y2="502.9" stroke="#000" stroke-width="1.55" stroke-dasharray="5.1 2.2 1.5 2.2"/>
<text x="1614.5" y="42.5" font-size="20.9" >284.73 eV</text>
<text x="1614.5" y="67.2" font-size="20.9" >C-C</text>
<text x="1524.7" y="254.3" font-size="20.9" text-anchor="middle" >285.72 eV</text>
<text x="1525.3" y="278.8" font-size="20.9" text-anchor="middle" >C-O</text>
<text x="1442.7" y="316.4" font-size="20.9" text-anchor="middle" >286.87 eV</text>
<text x="1442.7" y="341.8" font-size="20.9" text-anchor="middle" >C=O</text>
<text x="1346.4" y="341.2" font-size="20.9" text-anchor="middle" >288.10 eV</text>
<text x="1346.4" y="365.8" font-size="20.9" text-anchor="middle" >COOH</text>
<text x="1221.8" y="406.4" font-size="20.9" >290.31 eV</text>
<text x="1221.8" y="432.4" font-size="20.9" ><tspan font-family="Liberation Serif, serif">π</tspan>–<tspan font-family="Liberation Serif, serif">π</tspan>*</text>
<text x="1041" y="46" font-size="41" font-weight="bold" class="b" >b</text>
<text x="1438" y="680" font-size="25.0" text-anchor="middle" >Binding energy (eV)</text>
<text x="1015" y="288" font-size="25.0" text-anchor="middle" transform="rotate(-90 1015 288)" >Intensity (a.u.)</text>
<text x="1065.7" y="639.3" font-size="25.0" text-anchor="middle" >292</text>
<text x="1213" y="639.3" font-size="25.0" text-anchor="middle" >290</text>
<text x="1360.2" y="639.3" font-size="25.0" text-anchor="middle" >288</text>
<text x="1507.5" y="639.3" font-size="25.0" text-anchor="middle" >286</text>
<text x="1654.7" y="639.3" font-size="25.0" text-anchor="middle" >284</text>
<text x="1802" y="639.3" font-size="25.0" text-anchor="middle" >282</text>
<path d="M1028.7 1.4H1802V597H1028.7ZM1065.7 597L1065.7 609M1139.33 597L1139.33 603.4M1212.96 597L1212.96 609M1286.59 597L1286.59 603.4M1360.22 597L1360.22 609M1433.85 597L1433.85 603.4M1507.48 597L1507.48 609M1581.11 597L1581.11 603.4M1654.74 597L1654.74 609M1728.37 597L1728.37 603.4M1802 597L1802 609" fill="none" stroke="#000" stroke-width="2.25" stroke-linejoin="miter"/>
<path d="M126.4 1208.1 L135.8 1213.7 L145.8 1222.6 L155.4 1195.1 L165.3 1224.8 L174.9 1205.8 L184.3 1180.1 L194.4 1200.2 L203.5 1203.6 L213.6 1195.1 L223 1190.2 L233 1218.1 L242.6 1198 L252 1187.3 L261.7 1188.4 L271.3 1210.3 L281.1 1194.6 L290.5 1190.6 L300.1 1223.7 L309.7 1156.6 L319.8 1136.5 L329.2 1171.2 L338.8 1188.4 L348.6 1152.2 L358.2 1159.3 L367.9 1138.7 L377.2 1091.3 L387.1 1086.7 L396.7 1094 L406.3 1082.9 L415.9 1063.2 L426 1069.9 L435.4 1063.8 L445 1076.6 L455.5 1065.4 L464.4 1043.1 L474.5 1039.9 L484.1 1039.5 L492.9 1043.7 L493.5 1043.7 L503 1033.3 L512.9 1067.9 L522.7 1068.1 L532.8 1036.6 L542.2 1039.7 L551.6 1012 L561.5 1055.4 L571.1 1031.5 L581 1047.9 L590.3 1057.8 L599.7 1063.2 L610.3 1072.6 L618.5 1086.6 L629.1 1097.2 L638.5 1125.4 L647.9 1128.9 L658 1121.9 L667.8 1122.6 L677.2 1188.8 L686.6 1154.7 L697.2 1164.1 L706.6 1159.4 L716.4 1201.7 L725.8 1182.9 L735.9 1198.2 L745.3 1225.2 L754.7 1199.3 L764.5 1211.1 L774.6 1227.5 L784 1218.1 L793.4 1218.1 L803.5 1212.2 L812.9 1259.2 L822.3 1225.2 L831.7 1266.7 L841.5 1252.2 L850.9 1263.4 L860.8 1256.8 L870.9 1269.1 L880.3 1241.6" fill="none" stroke="#000" stroke-width="2.6" stroke-linejoin="round" />
<path d="M126.4 1221.5 L136.1 1221.6 L145.7 1221.7 L155.4 1221.8 L165.1 1221.9 L174.7 1222.1 L184.4 1222.3 L194.1 1222.5 L203.7 1222.7 L213.4 1222.9 L223 1223.2 L232.7 1223.4 L242.4 1223.7 L252 1224 L261.7 1224.3 L271.4 1224.6 L281 1224.9 L290.7 1225.2 L300.4 1225.5 L310 1225.8 L319.7 1226.2 L329.4 1226.6 L339 1227 L348.7 1227.5 L358.4 1228 L368 1228.6 L377.7 1229.2 L387.4 1229.8 L397 1230.5 L406.7 1231.3 L416.3 1232.1 L426 1232.9 L435.7 1233.8 L445.3 1234.6 L455 1235.5 L464.7 1236.4 L474.3 1237.2 L484 1238 L493.7 1238.8 L503.3 1239.6 L513 1240.3 L522.7 1241.1 L532.3 1241.9 L542 1242.7 L551.7 1243.4 L561.3 1244.2 L571 1244.9 L580.7 1245.6 L590.3 1246.4 L600 1247.1 L609.6 1247.9 L619.3 1248.6 L629 1249.3 L638.6 1250 L648.3 1250.6 L658 1251.2 L667.6 1251.7 L677.3 1252.1 L687 1252.5 L696.6 1252.8 L706.3 1253.1 L716 1253.4 L725.6 1253.7 L735.3 1254 L745 1254.2 L754.6 1254.5 L764.3 1254.7 L774 1254.9 L783.6 1255.1 L793.3 1255.2 L802.9 1255.4 L812.6 1255.5 L822.3 1255.6 L831.9 1255.7 L841.6 1255.8 L851.3 1255.9 L860.9 1255.9 L870.6 1256 L880.3 1256" fill="none" stroke="#0000ff" stroke-width="2.9" stroke-linejoin="round" />
<path d="M126.4 1217.3 L136.1 1217.1 L145.7 1216.8 L155.4 1216.5 L165.1 1216.1 L174.7 1215.6 L184.4 1215 L194.1 1214.3 L203.7 1213.4 L213.4 1212.3 L223 1211 L232.7 1209.4 L242.4 1207.4 L252 1205.1 L261.7 1202.4 L271.4 1199.3 L281 1195.6 L290.7 1191.6 L300.4 1187 L310 1182 L319.7 1176.5 L329.4 1170.8 L339 1164.8 L348.7 1158.6 L358.4 1152.4 L368 1146.2 L377.7 1140.4 L387.4 1135.2 L397 1130.6 L406.7 1127.1 L416.3 1124.7 L426 1123.6 L435.7 1124 L445.3 1125.7 L455 1128.7 L464.7 1132.8 L474.3 1138 L484 1143.9 L493.7 1150.5 L503.3 1157.4 L513 1164.7 L522.7 1172 L532.3 1179.3 L542 1186.5 L551.7 1193.3 L561.3 1199.8 L571 1205.9 L580.7 1211.6 L590.3 1216.8 L600 1221.6 L609.6 1225.9 L619.3 1229.7 L629 1233.2 L638.6 1236.1 L648.3 1238.7 L658 1241 L667.6 1242.9 L677.3 1244.4 L687 1245.8 L696.6 1246.9 L706.3 1247.9 L716 1248.7 L725.6 1249.4 L735.3 1250.1 L745 1250.7 L754.6 1251.2 L764.3 1251.6 L774 1252 L783.6 1252.4 L793.3 1252.7 L802.9 1253 L812.6 1253.2 L822.3 1253.4 L831.9 1253.6 L841.6 1253.8 L851.3 1254 L860.9 1254.1 L870.6 1254.2 L880.3 1254.3" fill="none" stroke="#008000" stroke-width="2.9" stroke-linejoin="round" />
<path d="M126.4 1220.3 L136.1 1220.3 L145.7 1220.3 L155.4 1220.4 L165.1 1220.4 L174.7 1220.5 L184.4 1220.6 L194.1 1220.7 L203.7 1220.7 L213.4 1220.8 L223 1220.9 L232.7 1220.9 L242.4 1220.9 L252 1220.8 L261.7 1220.7 L271.4 1220.4 L281 1220.1 L290.7 1219.6 L300.4 1218.9 L310 1218 L319.7 1216.9 L329.4 1215.6 L339 1214 L348.7 1212.1 L358.4 1209.7 L368 1206.9 L377.7 1203.7 L387.4 1200 L397 1195.8 L406.7 1191.1 L416.3 1185.9 L426 1180.1 L435.7 1173.8 L445.3 1167.1 L455 1159.9 L464.7 1152.5 L474.3 1144.8 L484 1136.9 L493.7 1129.2 L503.3 1121.6 L513 1114.4 L522.7 1107.8 L532.3 1101.9 L542 1097 L551.7 1093.1 L561.3 1090.4 L571 1089 L580.7 1089.1 L590.3 1090.6 L600 1093.7 L609.6 1098.3 L619.3 1104.2 L629 1111.2 L638.6 1119 L648.3 1127.5 L658 1136.3 L667.6 1145.4 L677.3 1154.6 L687 1163.6 L696.6 1172.4 L706.3 1180.8 L716 1188.9 L725.6 1196.4 L735.3 1203.5 L745 1209.9 L754.6 1215.7 L764.3 1221 L774 1225.7 L783.6 1229.8 L793.3 1233.4 L802.9 1236.5 L812.6 1239.2 L822.3 1241.5 L831.9 1243.4 L841.6 1245.1 L851.3 1246.5 L860.9 1247.6 L870.6 1248.6 L880.3 1249.4" fill="none" stroke="#ff00ff" stroke-width="2.9" stroke-linejoin="round" />
<path d="M126.4 1216.1 L136.1 1215.8 L145.7 1215.5 L155.4 1215.1 L165.1 1214.6 L174.7 1214 L184.4 1213.4 L194.1 1212.5 L203.7 1211.5 L213.4 1210.2 L223 1208.7 L232.7 1206.9 L242.4 1204.6 L252 1202 L261.7 1198.8 L271.4 1195.1 L281 1190.9 L290.7 1186 L300.4 1180.4 L310 1174.2 L319.7 1167.3 L329.4 1159.8 L339 1151.7 L348.7 1143.1 L358.4 1134 L368 1124.6 L377.7 1115 L387.4 1105.3 L397 1095.9 L406.7 1086.9 L416.3 1078.4 L426 1070.8 L435.7 1064 L445.3 1058.1 L455 1053.1 L464.7 1048.9 L474.3 1045.5 L484 1042.9 L493.7 1040.8 L503.3 1039.5 L513 1038.7 L522.7 1038.7 L532.3 1039.4 L542 1040.8 L551.7 1043 L561.3 1046.1 L571 1050.1 L580.7 1055 L590.3 1061.1 L600 1068.2 L609.6 1076.3 L619.3 1085.3 L629 1095 L638.6 1105.1 L648.3 1115.6 L658 1126.1 L667.6 1136.6 L677.3 1146.9 L687 1156.9 L696.6 1166.4 L706.3 1175.6 L716 1184.2 L725.6 1192.2 L735.3 1199.6 L745 1206.3 L754.6 1212.4 L764.3 1217.9 L774 1222.8 L783.6 1227.1 L793.3 1230.8 L802.9 1234.1 L812.6 1236.9 L822.3 1239.3 L831.9 1241.3 L841.6 1243.1 L851.3 1244.5 L860.9 1245.8 L870.6 1246.8 L880.3 1247.7" fill="none" stroke="#ff0000" stroke-width="2.9" stroke-linejoin="round" />
<line x1="431.4" y1="1007.8" x2="431.4" y2="1137.6" stroke="#000" stroke-width="1.5" stroke-dasharray="5.1 2.2 1.5 2.2"/>
<line x1="568.4" y1="961.5" x2="568.4" y2="1125.4" stroke="#000" stroke-width="1.5" stroke-dasharray="5.1 2.2 1.5 2.2"/>
<text x="432.8" y="973.5" font-size="20.9" text-anchor="middle" >533.54 eV</text>
<text x="434.8" y="1001.7" font-size="20.9" text-anchor="middle" >C-O-C, C-O-OH, C-OH</text>
<text x="550.3" y="931" font-size="20.9" >532.07 eV</text>
<text x="549.6" y="958" font-size="20.9" >C=O, O-C=O</text>
<text x="113.3" y="783.9" font-size="42" font-weight="bold" class="b" >c</text>
<text x="489" y="1422.7" font-size="25.0" text-anchor="middle" >Binding energy (eV)</text>
<text x="74.5" y="1046.4" font-size="25.0" text-anchor="middle" transform="rotate(-90 74.5 1046.4)" >Intensity (a.u.)</text>
<text x="102.5" y="1371.4" font-size="25.0" text-anchor="middle" >537</text>
<text x="199.2" y="1371.4" font-size="25.0" text-anchor="middle" >536</text>
<text x="295.8" y="1371.4" font-size="25.0" text-anchor="middle" >535</text>
<text x="392.5" y="1371.4" font-size="25.0" text-anchor="middle" >534</text>
<text x="489.1" y="1371.4" font-size="25.0" text-anchor="middle" >533</text>
<text x="585.8" y="1371.4" font-size="25.0" text-anchor="middle" >532</text>
<text x="682.4" y="1371.4" font-size="25.0" text-anchor="middle" >531</text>
<text x="779.1" y="1371.4" font-size="25.0" text-anchor="middle" >530</text>
<text x="875.7" y="1371.4" font-size="25.0" text-anchor="middle" >529</text>
<path d="M102.5 745.8H875.7V1341.3H102.5ZM199.15 1341.3L199.15 1329.9M295.8 1341.3L295.8 1329.9M392.45 1341.3L392.45 1329.9M489.1 1341.3L489.1 1329.9M585.75 1341.3L585.75 1329.9M682.4 1341.3L682.4 1329.9M779.05 1341.3L779.05 1329.9" fill="none" stroke="#000" stroke-width="2.4" stroke-linejoin="miter"/>
<path d="M1048.1 1261.1 L1057.8 1257.5 L1067.4 1256.9 L1077.1 1252.9 L1086.8 1257 L1096.4 1256 L1106.1 1255 L1115.8 1255.7 L1125.4 1254.9 L1135.1 1250.8 L1144.7 1249.4 L1154.4 1248 L1164.1 1247.8 L1173.7 1244.1 L1183.4 1235 L1193.1 1229.9 L1202.7 1228.6 L1212.4 1223.7 L1222.1 1208.9 L1231.7 1195.3 L1241.4 1190 L1251.1 1169.4 L1260.7 1158.2 L1270.4 1144.9 L1283.6 1110 L1289.7 1096.9 L1298.1 1074.6 L1309.3 1059 L1318.3 1036.6 L1329.4 1012 L1337.3 987.4 L1347.3 969.6 L1357.4 938.7 L1367.4 926 L1376.4 913.7 L1385.3 896.2 L1395.4 894 L1405.5 875.2 L1415.5 883.5 L1425.1 876.3 L1434.5 882.4 L1444.6 889.5 L1453.5 902.9 L1463.6 899.8 L1473.7 922.6 L1483.3 938.7 L1492.7 944.5 L1502.7 970 L1511.7 981.9 L1521.7 996.8 L1530.7 1012 L1540.7 1036.6 L1550.8 1056.8 L1560.8 1070.2 L1569.8 1090.3 L1582.1 1110 L1589.3 1138.8 L1599 1146.2 L1608.7 1166.9 L1618.3 1185.5 L1628 1191.6 L1637.7 1217.7 L1647.3 1221.5 L1657 1235.4 L1666.7 1252.8 L1676.3 1251.3 L1686 1259.8 L1695.7 1272 L1705.3 1270.3 L1715 1276.5 L1724.6 1282.5 L1734.3 1285.4 L1744 1288.1 L1753.6 1289.7 L1763.3 1293.2 L1773 1293.8 L1782.6 1294.1 L1801.7 1293.3" fill="none" stroke="#000" stroke-width="2.6" stroke-linejoin="round" />
<path d="M1048.1 1262.2 L1057.8 1262.2 L1067.4 1262.2 L1077.1 1262.3 L1086.8 1262.4 L1096.4 1262.5 L1106.1 1262.6 L1115.8 1262.7 L1125.4 1262.9 L1135.1 1263.1 L1144.7 1263.3 L1154.4 1263.5 L1164.1 1263.7 L1173.7 1263.9 L1183.4 1264.2 L1193.1 1264.4 L1202.7 1264.7 L1212.4 1265 L1222.1 1265.3 L1231.7 1265.5 L1241.4 1265.9 L1251.1 1266.2 L1260.7 1266.5 L1270.4 1266.9 L1280.1 1267.3 L1289.7 1267.9 L1299.4 1268.5 L1309.1 1269.1 L1318.7 1269.8 L1328.4 1270.6 L1338 1271.4 L1347.7 1272.3 L1357.4 1273.2 L1367 1274.4 L1376.7 1275.8 L1386.4 1277.2 L1396 1278.7 L1405.7 1280.1 L1415.4 1281.4 L1425 1282.7 L1434.7 1284 L1444.4 1285.3 L1454 1286.5 L1463.7 1287.7 L1473.4 1288.9 L1483 1290 L1492.7 1290.9 L1502.4 1291.8 L1512 1292.7 L1521.7 1293.6 L1531.3 1294.5 L1541 1295.3 L1550.7 1296 L1560.3 1296.7 L1570 1297.3 L1579.7 1297.8 L1589.3 1298.1 L1599 1298.4 L1608.7 1298.7 L1618.3 1298.9 L1628 1299.2 L1637.7 1299.4 L1647.3 1299.6 L1657 1299.7 L1666.7 1299.8 L1676.3 1299.9 L1686 1300 L1695.7 1300.1 L1705.3 1300.1 L1715 1300.2 L1724.6 1300.3 L1734.3 1300.3 L1744 1300.4 L1753.6 1300.4 L1763.3 1300.4 L1773 1300.5 L1782.6 1300.5 L1801.7 1300.5" fill="none" stroke="#0000ff" stroke-width="2.9" stroke-linejoin="round" />
<path d="M1048.1 1259.3 L1057.8 1259.1 L1067.4 1258.9 L1077.1 1258.6 L1086.8 1258.3 L1096.4 1257.9 L1106.1 1257.4 L1115.8 1256.7 L1125.4 1255.8 L1135.1 1254.5 L1144.7 1253 L1154.4 1250.9 L1164.1 1248.3 L1173.7 1245 L1183.4 1240.8 L1193.1 1235.7 L1202.7 1229.5 L1212.4 1222 L1222.1 1213.1 L1231.7 1202.8 L1241.4 1191 L1251.1 1177.7 L1260.7 1162.9 L1270.4 1146.8 L1280.1 1129.7 L1289.7 1111.8 L1299.4 1093.4 L1309.1 1075.1 L1318.7 1057.2 L1328.4 1040.3 L1338 1024.9 L1347.7 1011.7 L1357.4 1001.2 L1367 994.1 L1376.7 990.6 L1386.4 990.9 L1396 995.1 L1405.7 1003 L1415.4 1014.1 L1425 1028.3 L1434.7 1044.9 L1444.4 1063.4 L1454 1083.1 L1463.7 1103.4 L1473.4 1123.9 L1483 1144 L1492.7 1163.2 L1502.4 1181.4 L1512 1198.2 L1521.7 1213.6 L1531.3 1227.3 L1541 1239.5 L1550.7 1250.1 L1560.3 1259.1 L1570 1266.7 L1579.7 1273 L1589.3 1278.1 L1599 1282.3 L1608.7 1285.6 L1618.3 1288.3 L1628 1290.4 L1637.7 1292.1 L1647.3 1293.4 L1657 1294.5 L1666.7 1295.3 L1676.3 1295.9 L1686 1296.4 L1695.7 1296.8 L1705.3 1297.2 L1715 1297.4 L1724.6 1297.7 L1734.3 1297.9 L1744 1298.1 L1753.6 1298.2 L1763.3 1298.4 L1773 1298.5 L1782.6 1298.6 L1801.7 1298.8" fill="none" stroke="#008000" stroke-width="2.9" stroke-linejoin="round" />
<path d="M1048.1 1261.1 L1057.8 1261.1 L1067.4 1261 L1077.1 1261 L1086.8 1261.1 L1096.4 1261.1 L1106.1 1261.2 L1115.8 1261.2 L1125.4 1261.3 L1135.1 1261.4 L1144.7 1261.5 L1154.4 1261.5 L1164.1 1261.6 L1173.7 1261.7 L1183.4 1261.7 L1193.1 1261.7 L1202.7 1261.6 L1212.4 1261.5 L1222.1 1261.2 L1231.7 1260.8 L1241.4 1260.2 L1251.1 1259.3 L1260.7 1258.2 L1270.4 1256.7 L1280.1 1254.9 L1289.7 1252.6 L1299.4 1249.7 L1309.1 1246.2 L1318.7 1241.9 L1328.4 1236.8 L1338 1230.8 L1347.7 1223.8 L1357.4 1215.9 L1367 1207.1 L1376.7 1197.5 L1386.4 1187.1 L1396 1175.9 L1405.7 1164 L1415.4 1151.6 L1425 1139 L1434.7 1126.6 L1444.4 1114.8 L1454 1103.7 L1463.7 1093.9 L1473.4 1085.6 L1483 1079.2 L1492.7 1074.9 L1502.4 1073 L1512 1073.6 L1521.7 1076.8 L1531.3 1082.5 L1541 1090.5 L1550.7 1100.5 L1560.3 1112 L1570 1124.8 L1579.7 1138.4 L1589.3 1152.5 L1599 1166.6 L1608.7 1180.7 L1618.3 1194.3 L1628 1207.3 L1637.7 1219.5 L1647.3 1230.7 L1657 1240.9 L1666.7 1250 L1676.3 1258 L1686 1265 L1695.7 1271 L1705.3 1276.1 L1715 1280.3 L1724.6 1283.9 L1734.3 1286.8 L1744 1289.2 L1753.6 1291.1 L1763.3 1292.7 L1773 1293.9 L1782.6 1294.9 L1801.7 1296.2" fill="none" stroke="#ff00ff" stroke-width="2.9" stroke-linejoin="round" />
<path d="M1048.1 1258.2 L1057.8 1258 L1067.4 1257.7 L1077.1 1257.4 L1086.8 1257 L1096.4 1256.5 L1106.1 1255.9 L1115.8 1255.2 L1125.4 1254.2 L1135.1 1252.9 L1144.7 1251.2 L1154.4 1249 L1164.1 1246.2 L1173.7 1242.7 L1183.4 1238.4 L1193.1 1233 L1202.7 1226.4 L1212.4 1218.5 L1222.1 1209.1 L1231.7 1198 L1241.4 1185.3 L1251.1 1170.8 L1260.7 1154.6 L1270.4 1136.7 L1280.1 1117.2 L1289.7 1096.5 L1299.4 1074.7 L1309.1 1052.2 L1318.7 1029.3 L1328.4 1006.5 L1338 984.3 L1347.7 963.3 L1357.4 943.9 L1367 926.8 L1376.7 912.3 L1386.4 900.8 L1396 892.3 L1405.7 886.8 L1415.4 884.3 L1425 884.6 L1434.7 887.5 L1444.4 892.8 L1454 900.3 L1463.7 909.6 L1473.4 920.6 L1483 933.2 L1492.7 947.2 L1502.4 962.5 L1512 979 L1521.7 996.7 L1531.3 1015.4 L1541 1034.7 L1550.7 1054.5 L1560.3 1074.4 L1570 1094.3 L1579.7 1113.7 L1589.3 1132.5 L1599 1150.5 L1608.7 1167.6 L1618.3 1183.7 L1628 1198.6 L1637.7 1212.2 L1647.3 1224.6 L1657 1235.6 L1666.7 1245.4 L1676.3 1254 L1686 1261.4 L1695.7 1267.7 L1705.3 1273.1 L1715 1277.6 L1724.6 1281.3 L1734.3 1284.4 L1744 1286.9 L1753.6 1289 L1763.3 1290.6 L1773 1292 L1782.6 1293 L1801.7 1294.5" fill="none" stroke="#ff0000" stroke-width="2.9" stroke-linejoin="round" />
<line x1="1383.6" y1="860.3" x2="1383.6" y2="1030.5" stroke="#000" stroke-width="1.5" stroke-dasharray="5.1 2.2 1.5 2.2"/>
<line x1="1508.5" y1="912.8" x2="1508.5" y2="1094.4" stroke="#000" stroke-width="1.5" stroke-dasharray="5.1 2.2 1.5 2.2"/>
<text x="1410.6" y="824.4" font-size="20.9" text-anchor="middle" >533.25 eV</text>
<text x="1435" y="853.2" font-size="20.9" text-anchor="middle" >C-O-C, C-O-OH, C-OH</text>
<text x="1516.9" y="883.3" font-size="20.9" >531.97 eV</text>
<text x="1522.3" y="912.1" font-size="20.9" >C=O, O-C=O</text>
<text x="1037" y="789.2" font-size="41" font-weight="bold" class="b" >d</text>
<text x="1408.9" y="1423" font-size="25.0" text-anchor="middle" >Binding energy (eV)</text>
<text x="1005.5" y="1063.2" font-size="25.0" text-anchor="middle" transform="rotate(-90 1005.5 1063.2)" >Intensity (a.u.)</text>
<text x="1022.5" y="1371.4" font-size="25.0" text-anchor="middle" >537</text>
<text x="1119.2" y="1371.4" font-size="25.0" text-anchor="middle" >536</text>
<text x="1215.8" y="1371.4" font-size="25.0" text-anchor="middle" >535</text>
<text x="1312.5" y="1371.4" font-size="25.0" text-anchor="middle" >534</text>
<text x="1409.1" y="1371.4" font-size="25.0" text-anchor="middle" >533</text>
<text x="1505.8" y="1371.4" font-size="25.0" text-anchor="middle" >532</text>
<text x="1602.4" y="1371.4" font-size="25.0" text-anchor="middle" >531</text>
<text x="1699.1" y="1371.4" font-size="25.0" text-anchor="middle" >530</text>
<text x="1795.7" y="1371.4" font-size="25.0" text-anchor="middle" >529</text>
<path d="M1022.5 745.8H1795.7V1341.3H1022.5Z" fill="none" stroke="#000" stroke-width="2.4" stroke-linejoin="miter"/>
<rect x="183.4" y="1510.1" width="118.5" height="552.1" fill="#000" stroke="none" stroke-width="0"/>
<rect x="299.9" y="1658.1" width="118" height="404.1" fill="#ff0000" stroke="none" stroke-width="0"/>
<rect x="570" y="2038.9" width="118.5" height="23.3" fill="#000" stroke="none" stroke-width="0"/>
<rect x="686.5" y="1904.2" width="118.1" height="158" fill="#ff0000" stroke="none" stroke-width="0"/>
<text x="84.3" y="2070.6" font-size="25.0" text-anchor="end" >0</text>
<text x="84.3" y="1955.1" font-size="25.0" text-anchor="end" >20</text>
<text x="84.3" y="1839.6" font-size="25.0" text-anchor="end" >40</text>
<text x="84.3" y="1724" font-size="25.0" text-anchor="end" >60</text>
<text x="84.3" y="1608.5" font-size="25.0" text-anchor="end" >80</text>
<text x="84.3" y="1493" font-size="25.0" text-anchor="end" >100</text>
<path d="M107.5 1466.4H880.7V2062.2H107.5ZM95.1 2062.2L107.5 2062.2M101.5 2004.44L107.5 2004.44M95.1 1946.68L107.5 1946.68M101.5 1888.92L107.5 1888.92M95.1 1831.16L107.5 1831.16M101.5 1773.4L107.5 1773.4M95.1 1715.64L107.5 1715.64M101.5 1657.88L107.5 1657.88M95.1 1600.12L107.5 1600.12M101.5 1542.36L107.5 1542.36M95.1 1484.6L107.5 1484.6M107.5 2062.2L107.5 2068.1M300.8 2062.2L300.8 2074M494.1 2062.2L494.1 2068.1M687.4 2062.2L687.4 2074M880.7 2062.2L880.7 2068.1" fill="none" stroke="#000" stroke-width="2.45" stroke-linejoin="miter"/>
<text x="300.8" y="2103.5" font-size="25.0" text-anchor="middle" >C1s</text>
<text x="687.4" y="2103.5" font-size="25.0" text-anchor="middle" >O1s</text>
<rect x="600.6" y="1490.2" width="267.6" height="74.4" fill="#fff" stroke="#111" stroke-width="1.3"/>
<rect x="609.8" y="1493.8" width="64.6" height="32" fill="#000" stroke="none" stroke-width="0"/>
<rect x="609.8" y="1529.3" width="64.6" height="31.8" fill="#ff0000" stroke="none" stroke-width="0"/>
<text x="687.3" y="1517.9" font-size="25.0" >Pristine</text>
<text x="687.3" y="1553.2" font-size="25.0" >Plasma treated</text>
<text x="119.5" y="1502.5" font-size="42" font-weight="bold" class="b" >e</text>
<text x="19.3" y="1760" font-size="25.0" text-anchor="middle" transform="rotate(-90 19.3 1760)" >Atomic percentage (%)</text>
<rect x="1038.3" y="1505.2" width="63.6" height="552.2" fill="#000" stroke="none" stroke-width="0"/>
<rect x="1101.1" y="1678.8" width="62.1" height="378.7" fill="#ff0000" stroke="#000" stroke-width="1.7"/>
<rect x="1192.9" y="1990.6" width="63.6" height="66.8" fill="#000" stroke="none" stroke-width="0"/>
<rect x="1255.7" y="1939.5" width="62.1" height="117.9" fill="#ff0000" stroke="#000" stroke-width="1.7"/>
<rect x="1347.6" y="1984" width="63.6" height="73.4" fill="#000" stroke="none" stroke-width="0"/>
<rect x="1410.4" y="1961.8" width="62.1" height="95.7" fill="#ff0000" stroke="#000" stroke-width="1.7"/>
<rect x="1502.2" y="2029.2" width="63.6" height="28.2" fill="#000" stroke="none" stroke-width="0"/>
<rect x="1565" y="1946.4" width="62.1" height="111" fill="#ff0000" stroke="#000" stroke-width="1.7"/>
<rect x="1656.8" y="2026.1" width="63.6" height="31.3" fill="#000" stroke="none" stroke-width="0"/>
<rect x="1719.6" y="2015.2" width="62.1" height="42.2" fill="#ff0000" stroke="#000" stroke-width="1.7"/>
<text x="1002.8" y="2065.8" font-size="25.0" text-anchor="end" >0</text>
<text x="1002.8" y="1991" font-size="25.0" text-anchor="end" >10</text>
<text x="1002.8" y="1916.3" font-size="25.0" text-anchor="end" >20</text>
<text x="1002.8" y="1841.5" font-size="25.0" text-anchor="end" >30</text>
<text x="1002.8" y="1766.8" font-size="25.0" text-anchor="end" >40</text>
<text x="1002.8" y="1692" font-size="25.0" text-anchor="end" >50</text>
<text x="1002.8" y="1617.3" font-size="25.0" text-anchor="end" >60</text>
<text x="1002.8" y="1542.5" font-size="25.0" text-anchor="end" >70</text>
<text x="1101" y="2104" font-size="25.0" text-anchor="middle" >C-C</text>
<text x="1255.6" y="2104" font-size="25.0" text-anchor="middle" >C-O</text>
<text x="1410.3" y="2104" font-size="25.0" text-anchor="middle" >C=O</text>
<text x="1564.9" y="2104" font-size="25.0" text-anchor="middle" >COOH</text>
<text x="1719.5" y="2104" font-size="25.0" text-anchor="middle" >pi-pi*</text>
<path d="M1023.7 1461.7H1796.8V2057.4H1023.7ZM1012.1 2057.4L1023.7 2057.4M1017.7 2020.02L1023.7 2020.02M1012.1 1982.64L1023.7 1982.64M1017.7 1945.26L1023.7 1945.26M1012.1 1907.89L1023.7 1907.89M1017.7 1870.51L1023.7 1870.51M1012.1 1833.13L1023.7 1833.13M1017.7 1795.75L1023.7 1795.75M1012.1 1758.37L1023.7 1758.37M1017.7 1720.99L1023.7 1720.99M1012.1 1683.61L1023.7 1683.61M1017.7 1646.24L1023.7 1646.24M1012.1 1608.86L1023.7 1608.86M1017.7 1571.48L1023.7 1571.48M1012.1 1534.1L1023.7 1534.1M1017.7 1496.72L1023.7 1496.72M1023.7 2057.4L1023.7 2063.3M1178.33 2057.4L1178.33 2063.3M1332.96 2057.4L1332.96 2063.3M1487.59 2057.4L1487.59 2063.3M1642.22 2057.4L1642.22 2063.3M1796.85 2057.4L1796.85 2063.3M1101.02 2057.4L1101.02 2069.2M1255.64 2057.4L1255.64 2069.2M1410.28 2057.4L1410.28 2069.2M1564.9 2057.4L1564.9 2069.2M1719.53 2057.4L1719.53 2069.2" fill="none" stroke="#000" stroke-width="2.4" stroke-linejoin="miter"/>
<rect x="1499.5" y="1489.6" width="275.4" height="74.2" fill="#fff" stroke="#111" stroke-width="1.3"/>
<rect x="1509" y="1493.1" width="64.9" height="31.9" fill="#000" stroke="none" stroke-width="0"/>
<rect x="1509.8" y="1529.5" width="63.2" height="30.6" fill="#ff0000" stroke="#000" stroke-width="1.7"/>
<text x="1586.6" y="1516.7" font-size="25.0" >Pristine</text>
<text x="1586.6" y="1552.7" font-size="25.0" >Plasma treated</text>
<text x="1041" y="1497.9" font-size="41" font-weight="bold" class="b" >f</text>
<text x="950.9" y="1760" font-size="25.0" text-anchor="middle" transform="rotate(-90 950.9 1760)" >Atomic percentage (%)</text>
</svg>
</body>
</html>
